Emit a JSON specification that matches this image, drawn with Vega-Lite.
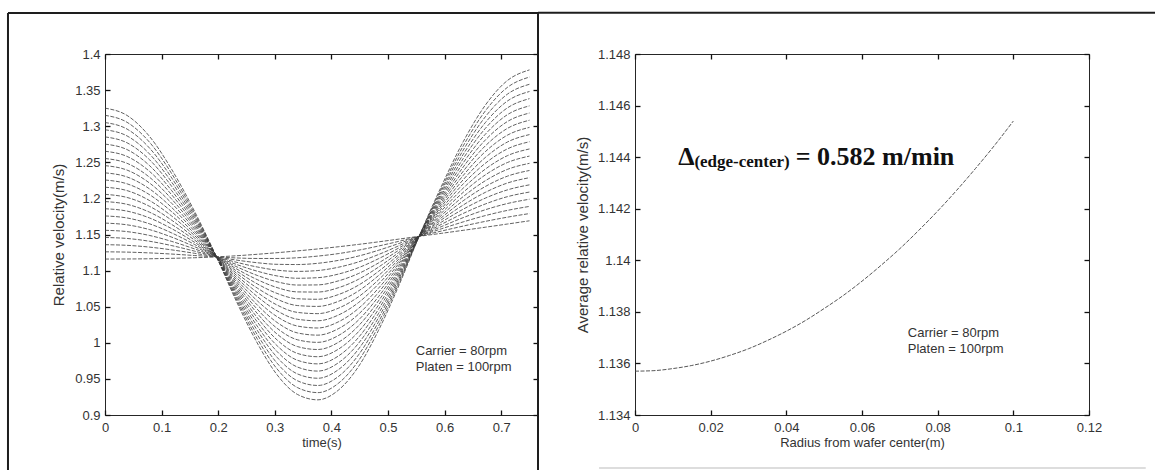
{
  "$schema": "https://vega.github.io/schema/vega-lite/v6.json",
  "background": "white",
  "padding": {"left": 6, "top": 11, "right": 0, "bottom": 0},
  "bounds": "flush",
  "spacing": 97,
  "config": {
    "font": "Liberation Sans",
    "view": {"stroke": "#262626", "strokeWidth": 1},
    "axis": {
      "grid": false, "domain": false, "ticks": true, "tickSize": 5, "offset": -5, "tickColor": "#111111", "tickWidth": 1.3,
      "labelFont": "Liberation Sans", "labelFontSize": 13, "labelColor": "#333333", "labelPadding": 5,
      "titleFont": "Liberation Sans", "titleFontSize": 13, "titleFontWeight": "normal", "titleColor": "#333333"
    }
  },
  "hconcat": [
    {
      "width": 433, "height": 361,
      "resolve": {"axis": {"x": "independent", "y": "independent"}},
      "layer": [
        {
          "data": {"values": [
{"k":0,"t":0,"v":1.116},{"k":0,"t":0.039,"v":1.1161},{"k":0,"t":0.079,"v":1.1164},{"k":0,"t":0.118,"v":1.117},{"k":0,"t":0.158,"v":1.1178},{"k":0,"t":0.197,"v":1.119},{"k":0,"t":0.233,"v":1.1206},{"k":0,"t":0.269,"v":1.1226},{"k":0,"t":0.304,"v":1.1248},{"k":0,"t":0.34,"v":1.1273},{"k":0,"t":0.376,"v":1.13},{"k":0,"t":0.412,"v":1.133},{"k":0,"t":0.448,"v":1.1363},{"k":0,"t":0.483,"v":1.1398},{"k":0,"t":0.519,"v":1.1436},{"k":0,"t":0.555,"v":1.1475},{"k":0,"t":0.594,"v":1.1516},{"k":0,"t":0.633,"v":1.1558},{"k":0,"t":0.672,"v":1.1601},{"k":0,"t":0.711,"v":1.1645},{"k":0,"t":0.75,"v":1.169},
{"k":1,"t":0,"v":1.126},{"k":1,"t":0.039,"v":1.1256},{"k":1,"t":0.079,"v":1.1245},{"k":1,"t":0.118,"v":1.1229},{"k":1,"t":0.158,"v":1.1209},{"k":1,"t":0.197,"v":1.119},{"k":1,"t":0.233,"v":1.1175},{"k":1,"t":0.269,"v":1.1168},{"k":1,"t":0.304,"v":1.1168},{"k":1,"t":0.34,"v":1.1178},{"k":1,"t":0.376,"v":1.1201},{"k":1,"t":0.412,"v":1.1235},{"k":1,"t":0.448,"v":1.1283},{"k":1,"t":0.483,"v":1.134},{"k":1,"t":0.519,"v":1.1405},{"k":1,"t":0.555,"v":1.1475},{"k":1,"t":0.594,"v":1.1547},{"k":1,"t":0.633,"v":1.1617},{"k":1,"t":0.672,"v":1.1682},{"k":1,"t":0.711,"v":1.174},{"k":1,"t":0.75,"v":1.179},
{"k":2,"t":0,"v":1.1359},{"k":2,"t":0.039,"v":1.135},{"k":2,"t":0.079,"v":1.1325},{"k":2,"t":0.118,"v":1.1287},{"k":2,"t":0.158,"v":1.124},{"k":2,"t":0.197,"v":1.119},{"k":2,"t":0.233,"v":1.1145},{"k":2,"t":0.269,"v":1.1109},{"k":2,"t":0.304,"v":1.1087},{"k":2,"t":0.34,"v":1.1084},{"k":2,"t":0.376,"v":1.1101},{"k":2,"t":0.412,"v":1.1141},{"k":2,"t":0.448,"v":1.1202},{"k":2,"t":0.483,"v":1.1281},{"k":2,"t":0.519,"v":1.1375},{"k":2,"t":0.555,"v":1.1475},{"k":2,"t":0.594,"v":1.1578},{"k":2,"t":0.633,"v":1.1675},{"k":2,"t":0.672,"v":1.1762},{"k":2,"t":0.711,"v":1.1834},{"k":2,"t":0.75,"v":1.1889},
{"k":3,"t":0,"v":1.1459},{"k":3,"t":0.039,"v":1.1445},{"k":3,"t":0.079,"v":1.1406},{"k":3,"t":0.118,"v":1.1346},{"k":3,"t":0.158,"v":1.127},{"k":3,"t":0.197,"v":1.119},{"k":3,"t":0.233,"v":1.1114},{"k":3,"t":0.269,"v":1.105},{"k":3,"t":0.304,"v":1.1006},{"k":3,"t":0.34,"v":1.0989},{"k":3,"t":0.376,"v":1.1001},{"k":3,"t":0.412,"v":1.1046},{"k":3,"t":0.448,"v":1.1121},{"k":3,"t":0.483,"v":1.1222},{"k":3,"t":0.519,"v":1.1344},{"k":3,"t":0.555,"v":1.1475},{"k":3,"t":0.594,"v":1.1608},{"k":3,"t":0.633,"v":1.1734},{"k":3,"t":0.672,"v":1.1843},{"k":3,"t":0.711,"v":1.1929},{"k":3,"t":0.75,"v":1.1989},
{"k":4,"t":0,"v":1.1558},{"k":4,"t":0.039,"v":1.154},{"k":4,"t":0.079,"v":1.1486},{"k":4,"t":0.118,"v":1.1404},{"k":4,"t":0.158,"v":1.1301},{"k":4,"t":0.197,"v":1.119},{"k":4,"t":0.233,"v":1.1083},{"k":4,"t":0.269,"v":1.0992},{"k":4,"t":0.304,"v":1.0926},{"k":4,"t":0.34,"v":1.0894},{"k":4,"t":0.376,"v":1.0902},{"k":4,"t":0.412,"v":1.0951},{"k":4,"t":0.448,"v":1.1041},{"k":4,"t":0.483,"v":1.1164},{"k":4,"t":0.519,"v":1.1313},{"k":4,"t":0.555,"v":1.1475},{"k":4,"t":0.594,"v":1.1639},{"k":4,"t":0.633,"v":1.1792},{"k":4,"t":0.672,"v":1.1923},{"k":4,"t":0.711,"v":1.2024},{"k":4,"t":0.75,"v":1.2088},
{"k":5,"t":0,"v":1.1658},{"k":5,"t":0.039,"v":1.1634},{"k":5,"t":0.079,"v":1.1567},{"k":5,"t":0.118,"v":1.1463},{"k":5,"t":0.158,"v":1.1332},{"k":5,"t":0.197,"v":1.119},{"k":5,"t":0.233,"v":1.1052},{"k":5,"t":0.269,"v":1.0933},{"k":5,"t":0.304,"v":1.0845},{"k":5,"t":0.34,"v":1.08},{"k":5,"t":0.376,"v":1.0802},{"k":5,"t":0.412,"v":1.0857},{"k":5,"t":0.448,"v":1.096},{"k":5,"t":0.483,"v":1.1105},{"k":5,"t":0.519,"v":1.1282},{"k":5,"t":0.555,"v":1.1475},{"k":5,"t":0.594,"v":1.167},{"k":5,"t":0.633,"v":1.1851},{"k":5,"t":0.672,"v":1.2004},{"k":5,"t":0.711,"v":1.2118},{"k":5,"t":0.75,"v":1.2188},
{"k":6,"t":0,"v":1.1757},{"k":6,"t":0.039,"v":1.1729},{"k":6,"t":0.079,"v":1.1647},{"k":6,"t":0.118,"v":1.1521},{"k":6,"t":0.158,"v":1.1363},{"k":6,"t":0.197,"v":1.119},{"k":6,"t":0.233,"v":1.1021},{"k":6,"t":0.269,"v":1.0875},{"k":6,"t":0.304,"v":1.0765},{"k":6,"t":0.34,"v":1.0705},{"k":6,"t":0.376,"v":1.0703},{"k":6,"t":0.412,"v":1.0762},{"k":6,"t":0.448,"v":1.088},{"k":6,"t":0.483,"v":1.1047},{"k":6,"t":0.519,"v":1.1251},{"k":6,"t":0.555,"v":1.1475},{"k":6,"t":0.594,"v":1.1701},{"k":6,"t":0.633,"v":1.1909},{"k":6,"t":0.672,"v":1.2084},{"k":6,"t":0.711,"v":1.2213},{"k":6,"t":0.75,"v":1.2287},
{"k":7,"t":0,"v":1.1857},{"k":7,"t":0.039,"v":1.1824},{"k":7,"t":0.079,"v":1.1728},{"k":7,"t":0.118,"v":1.158},{"k":7,"t":0.158,"v":1.1393},{"k":7,"t":0.197,"v":1.119},{"k":7,"t":0.233,"v":1.0991},{"k":7,"t":0.269,"v":1.0816},{"k":7,"t":0.304,"v":1.0684},{"k":7,"t":0.34,"v":1.061},{"k":7,"t":0.376,"v":1.0603},{"k":7,"t":0.412,"v":1.0667},{"k":7,"t":0.448,"v":1.0799},{"k":7,"t":0.483,"v":1.0988},{"k":7,"t":0.519,"v":1.1221},{"k":7,"t":0.555,"v":1.1475},{"k":7,"t":0.594,"v":1.1731},{"k":7,"t":0.633,"v":1.1968},{"k":7,"t":0.672,"v":1.2165},{"k":7,"t":0.711,"v":1.2308},{"k":7,"t":0.75,"v":1.2387},
{"k":8,"t":0,"v":1.1956},{"k":8,"t":0.039,"v":1.1918},{"k":8,"t":0.079,"v":1.1808},{"k":8,"t":0.118,"v":1.1638},{"k":8,"t":0.158,"v":1.1424},{"k":8,"t":0.197,"v":1.119},{"k":8,"t":0.233,"v":1.096},{"k":8,"t":0.269,"v":1.0758},{"k":8,"t":0.304,"v":1.0604},{"k":8,"t":0.34,"v":1.0516},{"k":8,"t":0.376,"v":1.0504},{"k":8,"t":0.412,"v":1.0573},{"k":8,"t":0.448,"v":1.0719},{"k":8,"t":0.483,"v":1.093},{"k":8,"t":0.519,"v":1.119},{"k":8,"t":0.555,"v":1.1475},{"k":8,"t":0.594,"v":1.1762},{"k":8,"t":0.633,"v":1.2026},{"k":8,"t":0.672,"v":1.2245},{"k":8,"t":0.711,"v":1.2402},{"k":8,"t":0.75,"v":1.2486},
{"k":9,"t":0,"v":1.2056},{"k":9,"t":0.039,"v":1.2013},{"k":9,"t":0.079,"v":1.1889},{"k":9,"t":0.118,"v":1.1697},{"k":9,"t":0.158,"v":1.1455},{"k":9,"t":0.197,"v":1.119},{"k":9,"t":0.233,"v":1.0929},{"k":9,"t":0.269,"v":1.0699},{"k":9,"t":0.304,"v":1.0523},{"k":9,"t":0.34,"v":1.0421},{"k":9,"t":0.376,"v":1.0404},{"k":9,"t":0.412,"v":1.0478},{"k":9,"t":0.448,"v":1.0638},{"k":9,"t":0.483,"v":1.0871},{"k":9,"t":0.519,"v":1.1159},{"k":9,"t":0.555,"v":1.1475},{"k":9,"t":0.594,"v":1.1793},{"k":9,"t":0.633,"v":1.2085},{"k":9,"t":0.672,"v":1.2326},{"k":9,"t":0.711,"v":1.2497},{"k":9,"t":0.75,"v":1.2586},
{"k":10,"t":0,"v":1.2155},{"k":10,"t":0.039,"v":1.2108},{"k":10,"t":0.079,"v":1.1969},{"k":10,"t":0.118,"v":1.1755},{"k":10,"t":0.158,"v":1.1486},{"k":10,"t":0.197,"v":1.119},{"k":10,"t":0.233,"v":1.0898},{"k":10,"t":0.269,"v":1.0641},{"k":10,"t":0.304,"v":1.0443},{"k":10,"t":0.34,"v":1.0326},{"k":10,"t":0.376,"v":1.0305},{"k":10,"t":0.412,"v":1.0383},{"k":10,"t":0.448,"v":1.0558},{"k":10,"t":0.483,"v":1.0813},{"k":10,"t":0.519,"v":1.1128},{"k":10,"t":0.555,"v":1.1475},{"k":10,"t":0.594,"v":1.1824},{"k":10,"t":0.633,"v":1.2143},{"k":10,"t":0.672,"v":1.2406},{"k":10,"t":0.711,"v":1.2592},{"k":10,"t":0.75,"v":1.2685},
{"k":11,"t":0,"v":1.2255},{"k":11,"t":0.039,"v":1.2202},{"k":11,"t":0.079,"v":1.205},{"k":11,"t":0.118,"v":1.1814},{"k":11,"t":0.158,"v":1.1516},{"k":11,"t":0.197,"v":1.119},{"k":11,"t":0.233,"v":1.0868},{"k":11,"t":0.269,"v":1.0582},{"k":11,"t":0.304,"v":1.0362},{"k":11,"t":0.34,"v":1.0232},{"k":11,"t":0.376,"v":1.0205},{"k":11,"t":0.412,"v":1.0289},{"k":11,"t":0.448,"v":1.0477},{"k":11,"t":0.483,"v":1.0754},{"k":11,"t":0.519,"v":1.1098},{"k":11,"t":0.555,"v":1.1475},{"k":11,"t":0.594,"v":1.1854},{"k":11,"t":0.633,"v":1.2202},{"k":11,"t":0.672,"v":1.2487},{"k":11,"t":0.711,"v":1.2686},{"k":11,"t":0.75,"v":1.2785},
{"k":12,"t":0,"v":1.2354},{"k":12,"t":0.039,"v":1.2297},{"k":12,"t":0.079,"v":1.213},{"k":12,"t":0.118,"v":1.1872},{"k":12,"t":0.158,"v":1.1547},{"k":12,"t":0.197,"v":1.119},{"k":12,"t":0.233,"v":1.0837},{"k":12,"t":0.269,"v":1.0524},{"k":12,"t":0.304,"v":1.0282},{"k":12,"t":0.34,"v":1.0137},{"k":12,"t":0.376,"v":1.0106},{"k":12,"t":0.412,"v":1.0194},{"k":12,"t":0.448,"v":1.0397},{"k":12,"t":0.483,"v":1.0696},{"k":12,"t":0.519,"v":1.1067},{"k":12,"t":0.555,"v":1.1475},{"k":12,"t":0.594,"v":1.1885},{"k":12,"t":0.633,"v":1.226},{"k":12,"t":0.672,"v":1.2567},{"k":12,"t":0.711,"v":1.2781},{"k":12,"t":0.75,"v":1.2884},
{"k":13,"t":0,"v":1.2454},{"k":13,"t":0.039,"v":1.2392},{"k":13,"t":0.079,"v":1.2211},{"k":13,"t":0.118,"v":1.1931},{"k":13,"t":0.158,"v":1.1578},{"k":13,"t":0.197,"v":1.119},{"k":13,"t":0.233,"v":1.0806},{"k":13,"t":0.269,"v":1.0465},{"k":13,"t":0.304,"v":1.0201},{"k":13,"t":0.34,"v":1.0042},{"k":13,"t":0.376,"v":1.0006},{"k":13,"t":0.412,"v":1.0099},{"k":13,"t":0.448,"v":1.0316},{"k":13,"t":0.483,"v":1.0637},{"k":13,"t":0.519,"v":1.1036},{"k":13,"t":0.555,"v":1.1475},{"k":13,"t":0.594,"v":1.1916},{"k":13,"t":0.633,"v":1.2319},{"k":13,"t":0.672,"v":1.2648},{"k":13,"t":0.711,"v":1.2876},{"k":13,"t":0.75,"v":1.2984},
{"k":14,"t":0,"v":1.2553},{"k":14,"t":0.039,"v":1.2486},{"k":14,"t":0.079,"v":1.2291},{"k":14,"t":0.118,"v":1.1989},{"k":14,"t":0.158,"v":1.1609},{"k":14,"t":0.197,"v":1.119},{"k":14,"t":0.233,"v":1.0775},{"k":14,"t":0.269,"v":1.0407},{"k":14,"t":0.304,"v":1.0121},{"k":14,"t":0.34,"v":0.9948},{"k":14,"t":0.376,"v":0.9907},{"k":14,"t":0.412,"v":1.0005},{"k":14,"t":0.448,"v":1.0236},{"k":14,"t":0.483,"v":1.0579},{"k":14,"t":0.519,"v":1.1005},{"k":14,"t":0.555,"v":1.1475},{"k":14,"t":0.594,"v":1.1947},{"k":14,"t":0.633,"v":1.2377},{"k":14,"t":0.672,"v":1.2728},{"k":14,"t":0.711,"v":1.297},{"k":14,"t":0.75,"v":1.3083},
{"k":15,"t":0,"v":1.2653},{"k":15,"t":0.039,"v":1.2581},{"k":15,"t":0.079,"v":1.2372},{"k":15,"t":0.118,"v":1.2048},{"k":15,"t":0.158,"v":1.1639},{"k":15,"t":0.197,"v":1.119},{"k":15,"t":0.233,"v":1.0745},{"k":15,"t":0.269,"v":1.0348},{"k":15,"t":0.304,"v":1.004},{"k":15,"t":0.34,"v":0.9853},{"k":15,"t":0.376,"v":0.9807},{"k":15,"t":0.412,"v":0.991},{"k":15,"t":0.448,"v":1.0155},{"k":15,"t":0.483,"v":1.052},{"k":15,"t":0.519,"v":1.0975},{"k":15,"t":0.555,"v":1.1475},{"k":15,"t":0.594,"v":1.1977},{"k":15,"t":0.633,"v":1.2436},{"k":15,"t":0.672,"v":1.2809},{"k":15,"t":0.711,"v":1.3065},{"k":15,"t":0.75,"v":1.3183},
{"k":16,"t":0,"v":1.2752},{"k":16,"t":0.039,"v":1.2676},{"k":16,"t":0.079,"v":1.2452},{"k":16,"t":0.118,"v":1.2106},{"k":16,"t":0.158,"v":1.167},{"k":16,"t":0.197,"v":1.119},{"k":16,"t":0.233,"v":1.0714},{"k":16,"t":0.269,"v":1.029},{"k":16,"t":0.304,"v":0.996},{"k":16,"t":0.34,"v":0.9758},{"k":16,"t":0.376,"v":0.9708},{"k":16,"t":0.412,"v":0.9815},{"k":16,"t":0.448,"v":1.0075},{"k":16,"t":0.483,"v":1.0462},{"k":16,"t":0.519,"v":1.0944},{"k":16,"t":0.555,"v":1.1475},{"k":16,"t":0.594,"v":1.2008},{"k":16,"t":0.633,"v":1.2494},{"k":16,"t":0.672,"v":1.2889},{"k":16,"t":0.711,"v":1.316},{"k":16,"t":0.75,"v":1.3282},
{"k":17,"t":0,"v":1.2852},{"k":17,"t":0.039,"v":1.277},{"k":17,"t":0.079,"v":1.2533},{"k":17,"t":0.118,"v":1.2165},{"k":17,"t":0.158,"v":1.1701},{"k":17,"t":0.197,"v":1.119},{"k":17,"t":0.233,"v":1.0683},{"k":17,"t":0.269,"v":1.0231},{"k":17,"t":0.304,"v":0.9879},{"k":17,"t":0.34,"v":0.9664},{"k":17,"t":0.376,"v":0.9608},{"k":17,"t":0.412,"v":0.9721},{"k":17,"t":0.448,"v":0.9994},{"k":17,"t":0.483,"v":1.0403},{"k":17,"t":0.519,"v":1.0913},{"k":17,"t":0.555,"v":1.1475},{"k":17,"t":0.594,"v":1.2039},{"k":17,"t":0.633,"v":1.2553},{"k":17,"t":0.672,"v":1.297},{"k":17,"t":0.711,"v":1.3254},{"k":17,"t":0.75,"v":1.3382},
{"k":18,"t":0,"v":1.2951},{"k":18,"t":0.039,"v":1.2865},{"k":18,"t":0.079,"v":1.2613},{"k":18,"t":0.118,"v":1.2223},{"k":18,"t":0.158,"v":1.1732},{"k":18,"t":0.197,"v":1.119},{"k":18,"t":0.233,"v":1.0652},{"k":18,"t":0.269,"v":1.0173},{"k":18,"t":0.304,"v":0.9799},{"k":18,"t":0.34,"v":0.9569},{"k":18,"t":0.376,"v":0.9509},{"k":18,"t":0.412,"v":0.9626},{"k":18,"t":0.448,"v":0.9914},{"k":18,"t":0.483,"v":1.0345},{"k":18,"t":0.519,"v":1.0882},{"k":18,"t":0.555,"v":1.1475},{"k":18,"t":0.594,"v":1.207},{"k":18,"t":0.633,"v":1.2611},{"k":18,"t":0.672,"v":1.305},{"k":18,"t":0.711,"v":1.3349},{"k":18,"t":0.75,"v":1.3481},
{"k":19,"t":0,"v":1.3051},{"k":19,"t":0.039,"v":1.296},{"k":19,"t":0.079,"v":1.2694},{"k":19,"t":0.118,"v":1.2282},{"k":19,"t":0.158,"v":1.1763},{"k":19,"t":0.197,"v":1.119},{"k":19,"t":0.233,"v":1.0622},{"k":19,"t":0.269,"v":1.0114},{"k":19,"t":0.304,"v":0.9718},{"k":19,"t":0.34,"v":0.9474},{"k":19,"t":0.376,"v":0.9409},{"k":19,"t":0.412,"v":0.9531},{"k":19,"t":0.448,"v":0.9833},{"k":19,"t":0.483,"v":1.0286},{"k":19,"t":0.519,"v":1.0852},{"k":19,"t":0.555,"v":1.1475},{"k":19,"t":0.594,"v":1.2101},{"k":19,"t":0.633,"v":1.267},{"k":19,"t":0.672,"v":1.3131},{"k":19,"t":0.711,"v":1.3444},{"k":19,"t":0.75,"v":1.3581},
{"k":20,"t":0,"v":1.3151},{"k":20,"t":0.039,"v":1.3054},{"k":20,"t":0.079,"v":1.2775},{"k":20,"t":0.118,"v":1.2341},{"k":20,"t":0.158,"v":1.1793},{"k":20,"t":0.197,"v":1.119},{"k":20,"t":0.233,"v":1.0591},{"k":20,"t":0.269,"v":1.0056},{"k":20,"t":0.304,"v":0.9638},{"k":20,"t":0.34,"v":0.938},{"k":20,"t":0.376,"v":0.931},{"k":20,"t":0.412,"v":0.9437},{"k":20,"t":0.448,"v":0.9753},{"k":20,"t":0.483,"v":1.0228},{"k":20,"t":0.519,"v":1.0821},{"k":20,"t":0.555,"v":1.1475},{"k":20,"t":0.594,"v":1.2131},{"k":20,"t":0.633,"v":1.2729},{"k":20,"t":0.672,"v":1.3212},{"k":20,"t":0.711,"v":1.3538},{"k":20,"t":0.75,"v":1.3681},
{"k":21,"t":0,"v":1.325},{"k":21,"t":0.039,"v":1.3149},{"k":21,"t":0.079,"v":1.2855},{"k":21,"t":0.118,"v":1.2399},{"k":21,"t":0.158,"v":1.1824},{"k":21,"t":0.197,"v":1.119},{"k":21,"t":0.233,"v":1.056},{"k":21,"t":0.269,"v":0.9997},{"k":21,"t":0.304,"v":0.9557},{"k":21,"t":0.34,"v":0.9285},{"k":21,"t":0.376,"v":0.921},{"k":21,"t":0.412,"v":0.9342},{"k":21,"t":0.448,"v":0.9672},{"k":21,"t":0.483,"v":1.0169},{"k":21,"t":0.519,"v":1.079},{"k":21,"t":0.555,"v":1.1475},{"k":21,"t":0.594,"v":1.2162},{"k":21,"t":0.633,"v":1.2787},{"k":21,"t":0.672,"v":1.3292},{"k":21,"t":0.711,"v":1.3633},{"k":21,"t":0.75,"v":1.378}
          ]},
          "mark": {"type": "line", "color": "#3a3a3a", "strokeWidth": 0.8, "strokeDash": [4, 1.5], "interpolate": "monotone"},
          "encoding": {
            "x": {"field": "t", "type": "quantitative", "scale": {"domain": [0, 0.765], "nice": false, "zero": false},
                  "axis": {"values": [0,0.1,0.2,0.3,0.4,0.5,0.6,0.7], "format": ".2~f", "title": "time(s)", "labelPadding": 6, "titlePadding": 2, "labelFlush": false}},
            "y": {"field": "v", "type": "quantitative", "scale": {"domain": [0.9, 1.4], "nice": false, "zero": false},
                  "axis": {"values": [0.9,0.95,1,1.05,1.1,1.15,1.2,1.25,1.3,1.35,1.4], "format": ".2~f", "title": "Relative velocity(m/s)", "titleFontSize": 15, "minExtent": 36, "maxExtent": 36, "titlePadding": 8, "labelFlush": false}},
            "detail": {"field": "k", "type": "nominal"}
          }
        },
        {
          "data": {"values": [{}]},
          "mark": {"type": "text", "text": ["Carrier = 80rpm", "Platen = 100rpm"], "align": "left", "baseline": "middle", "fontSize": 13, "lineHeight": 16, "color": "#333333"},
          "encoding": {
            "x": {"datum": 0.549, "type": "quantitative", "scale": {"domain": [0, 0.765], "nice": false, "zero": false},
                  "axis": {"orient": "top", "labels": false, "title": null, "values": [0,0.1,0.2,0.3,0.4,0.5,0.6,0.7]}},
            "y": {"datum": 0.9886, "type": "quantitative", "scale": {"domain": [0.9, 1.4], "nice": false, "zero": false},
                  "axis": {"orient": "right", "labels": false, "title": null, "values": [0.9,0.95,1,1.05,1.1,1.15,1.2,1.25,1.3,1.35,1.4]}}
          }
        },
        {
          "data": {"values": [{}]},
          "mark": {"type": "rule", "color": "#1e1e1e", "strokeWidth": 2},
          "encoding": {
            "x": {"datum": -0.1714, "type": "quantitative", "scale": {"domain": [0, 0.765], "nice": false, "zero": false}, "axis": null},
            "x2": {"datum": 0.765},
            "y": {"datum": 1.4568, "type": "quantitative", "scale": {"domain": [0.9, 1.4], "nice": false, "zero": false}, "axis": null}
          }
        },
        {
          "data": {"values": [{}]},
          "mark": {"type": "rule", "color": "#1e1e1e", "strokeWidth": 2},
          "encoding": {
            "x": {"datum": -0.1714, "type": "quantitative", "scale": {"domain": [0, 0.765], "nice": false, "zero": false}, "axis": null},
            "y": {"datum": 1.4568, "type": "quantitative", "scale": {"domain": [0.9, 1.4], "nice": false, "zero": false}, "axis": null},
            "y2": {"datum": 0.8}
          }
        },
        {
          "data": {"values": [{}]},
          "mark": {"type": "rule", "color": "#1e1e1e", "strokeWidth": 2},
          "encoding": {
            "x": {"datum": 0.765, "type": "quantitative", "scale": {"domain": [0, 0.765], "nice": false, "zero": false}, "axis": null},
            "y": {"datum": 1.4568, "type": "quantitative", "scale": {"domain": [0.9, 1.4], "nice": false, "zero": false}, "axis": null},
            "y2": {"datum": 0.8}
          }
        }
      ]
    },
    {
      "width": 454, "height": 361,
      "resolve": {"axis": {"x": "independent", "y": "independent"}},
      "layer": [
        {
          "data": {"values": [
            {"r":0,"v":1.1357},{"r":0.005,"v":1.13572},{"r":0.01,"v":1.1358},{"r":0.015,"v":1.13592},{"r":0.02,"v":1.13609},{"r":0.025,"v":1.13631},{"r":0.03,"v":1.13657},{"r":0.035,"v":1.13689},{"r":0.04,"v":1.13725},{"r":0.045,"v":1.13766},{"r":0.05,"v":1.13813},{"r":0.055,"v":1.13863},{"r":0.06,"v":1.13919},{"r":0.065,"v":1.1398},{"r":0.07,"v":1.14045},{"r":0.075,"v":1.14116},{"r":0.08,"v":1.14191},{"r":0.085,"v":1.14271},{"r":0.09,"v":1.14356},{"r":0.095,"v":1.14445},{"r":0.1,"v":1.1454}
          ]},
          "mark": {"type": "line", "color": "#444444", "strokeWidth": 0.9, "strokeDash": [4, 1.5], "interpolate": "monotone"},
          "encoding": {
            "x": {"field": "r", "type": "quantitative", "scale": {"domain": [0, 0.12], "nice": false, "zero": false},
                  "axis": {"values": [0,0.02,0.04,0.06,0.08,0.1,0.12], "format": ".2~f", "title": "Radius from wafer center(m)", "labelPadding": 6, "titlePadding": 2, "labelFlush": false}},
            "y": {"field": "v", "type": "quantitative", "scale": {"domain": [1.134, 1.148], "nice": false, "zero": false},
                  "axis": {"values": [1.134,1.136,1.138,1.14,1.142,1.144,1.146,1.148], "format": ".3~f", "title": "Average relative velocity(m/s)", "titleFontSize": 15, "minExtent": 43, "maxExtent": 43, "titlePadding": 7, "labelFlush": false}}
          }
        },
        {
          "data": {"values": [{}]},
          "mark": {"type": "text", "text": ["Carrier = 80rpm", "Platen = 100rpm"], "align": "left", "baseline": "middle", "fontSize": 13, "lineHeight": 16, "color": "#333333"},
          "encoding": {
            "x": {"datum": 0.0721, "type": "quantitative", "scale": {"domain": [0, 0.12], "nice": false, "zero": false},
                  "axis": {"orient": "top", "labels": false, "title": null, "values": [0,0.02,0.04,0.06,0.08,0.1,0.12]}},
            "y": {"datum": 1.13718, "type": "quantitative", "scale": {"domain": [1.134, 1.148], "nice": false, "zero": false},
                  "axis": {"orient": "right", "labels": false, "title": null, "values": [1.134,1.136,1.138,1.14,1.142,1.144,1.146,1.148]}}
          }
        },
        {
          "data": {"values": [{}]},
          "mark": {"type": "text", "text": "Δ", "align": "left", "baseline": "alphabetic", "font": "Liberation Serif", "fontSize": 26, "fontWeight": "bold", "color": "#111111"},
          "encoding": {
            "x": {"datum": 0.0114, "type": "quantitative", "scale": {"domain": [0, 0.12], "nice": false, "zero": false}, "axis": null},
            "y": {"datum": 1.1437, "type": "quantitative", "scale": {"domain": [1.134, 1.148], "nice": false, "zero": false}, "axis": null}
          }
        },
        {
          "data": {"values": [{}]},
          "mark": {"type": "text", "text": "(edge-center)", "align": "left", "baseline": "alphabetic", "font": "Liberation Serif", "fontSize": 17, "fontWeight": "bold", "color": "#111111"},
          "encoding": {
            "x": {"datum": 0.0157, "type": "quantitative", "scale": {"domain": [0, 0.12], "nice": false, "zero": false}, "axis": null},
            "y": {"datum": 1.1436, "type": "quantitative", "scale": {"domain": [1.134, 1.148], "nice": false, "zero": false}, "axis": null}
          }
        },
        {
          "data": {"values": [{}]},
          "mark": {"type": "text", "text": "= 0.582 m/min", "align": "left", "baseline": "alphabetic", "font": "Liberation Serif", "fontSize": 26, "fontWeight": "bold", "color": "#111111"},
          "encoding": {
            "x": {"datum": 0.0425, "type": "quantitative", "scale": {"domain": [0, 0.12], "nice": false, "zero": false}, "axis": null},
            "y": {"datum": 1.1437, "type": "quantitative", "scale": {"domain": [1.134, 1.148], "nice": false, "zero": false}, "axis": null}
          }
        },
        {
          "data": {"values": [{}]},
          "mark": {"type": "rule", "color": "#1e1e1e", "strokeWidth": 2},
          "encoding": {
            "x": {"datum": -0.02564, "type": "quantitative", "scale": {"domain": [0, 0.12], "nice": false, "zero": false}, "axis": null},
            "x2": {"datum": 0.14},
            "y": {"datum": 1.1496, "type": "quantitative", "scale": {"domain": [1.134, 1.148], "nice": false, "zero": false}, "axis": null}
          }
        },
        {
          "data": {"values": [{}]},
          "mark": {"type": "rule", "color": "#d2d2d2", "strokeWidth": 1.5},
          "encoding": {
            "x": {"datum": -0.0095, "type": "quantitative", "scale": {"domain": [0, 0.12], "nice": false, "zero": false}, "axis": null},
            "x2": {"datum": 0.135},
            "y": {"datum": 1.13194, "type": "quantitative", "scale": {"domain": [1.134, 1.148], "nice": false, "zero": false}, "axis": null}
          }
        }
      ]
    }
  ]
}
